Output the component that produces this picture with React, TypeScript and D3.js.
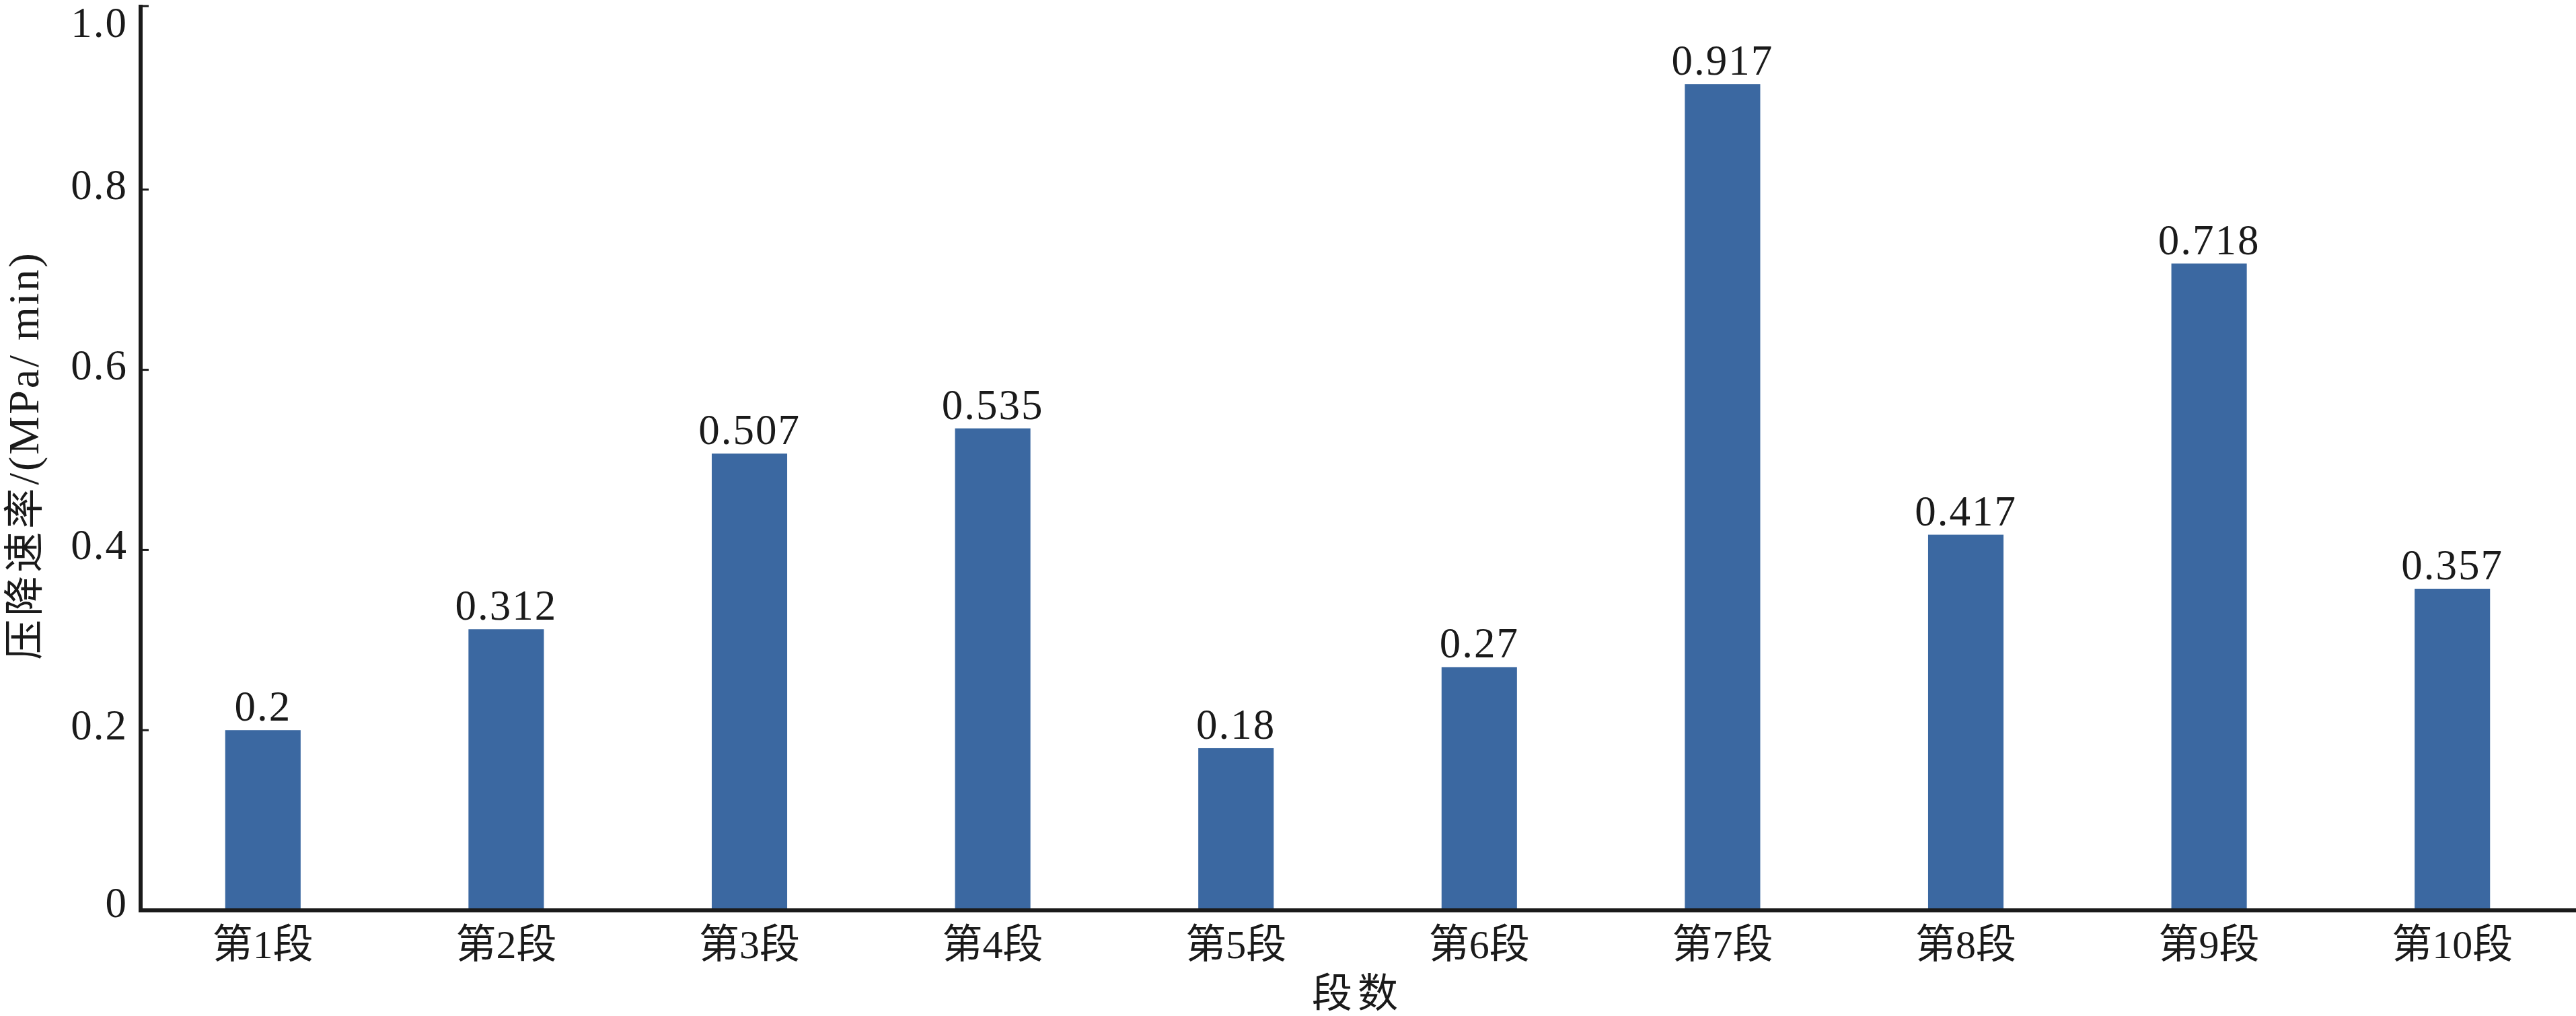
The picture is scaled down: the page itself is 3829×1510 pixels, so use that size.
import React from "react";
import * as d3 from "d3";

const categories = ["第1段", "第2段", "第3段", "第4段", "第5段", "第6段", "第7段", "第8段", "第9段", "第10段"];
const values = [0.2, 0.312, 0.507, 0.535, 0.18, 0.27, 0.917, 0.417, 0.718, 0.357];
const valueLabels = ["0.2", "0.312", "0.507", "0.535", "0.18", "0.27", "0.917", "0.417", "0.718", "0.357"];
const yTicks = [0, 0.2, 0.4, 0.6, 0.8, 1.0];
const yTickLabels = ["0", "0.2", "0.4", "0.6", "0.8", "1.0"];
const xTitle = "段数";
const yTitleCJK = "压降速率";
const yTitleUnit = "/(MPa/ min)";

const W = 3829;
const H = 1510;
const X0 = 210;
const X1 = 3826;
const Y0 = 1353;
const Y1 = 14;

const serif = "'Liberation Serif', 'Times New Roman', 'Noto Sans CJK SC', serif";
const ink = "#1a1a1a";
const barColor = "#3b68a1";

export default function App() {
  const x = d3.scaleBand<string>().domain(categories).range([X0, X1]).paddingInner(0.69).paddingOuter(0.345);
  const y = d3.scaleLinear().domain([0, 1]).range([Y0, Y1]);

  return (
    <svg width={W} height={H} style={{ position: "absolute", left: 0, top: 0, background: "#fff" }}>
      <rect x={0} y={0} width={W} height={H} fill="#fff" />
      {categories.map((c, i) => (
        <rect key={c} x={x(c)} y={y(values[i])} width={x.bandwidth()} height={Y0 - y(values[i])} fill={barColor} />
      ))}
      {categories.map((c, i) => (
        <text key={"v" + c} x={(x(c) as number) + x.bandwidth() / 2} y={y(values[i]) - 14} textAnchor="middle"
          fontFamily={serif} fontSize={63} letterSpacing={2} fill={ink}>{valueLabels[i]}</text>
      ))}
      {/* axes */}
      <line x1={209} x2={209} y1={7} y2={Y0 + 3} stroke={ink} strokeWidth={6} />
      <line x1={206} x2={W} y1={Y0} y2={Y0} stroke={ink} strokeWidth={6} />
      <line x1={209} x2={221} y1={9} y2={9} stroke={ink} strokeWidth={3} />
      {yTicks.map((t, i) => (
        <g key={"t" + i}>
          {t > 0 && t < 1 && <line x1={209} x2={221} y1={y(t)} y2={y(t)} stroke={ink} strokeWidth={3} />}
          <text x={190} y={t === 1 ? 55 : y(t) + 14 + (t === 0 ? -4 : 0)} textAnchor="end" fontFamily={serif} fontSize={63}
            letterSpacing={2} fill={ink}>{yTickLabels[i]}</text>
        </g>
      ))}
      {categories.map((c) => (
        <text key={"c" + c} x={(x(c) as number) + x.bandwidth() / 2} y={1424} textAnchor="middle"
          fontFamily={serif} fontSize={60} fill={ink}>{c}</text>
      ))}
      <text x={(X0 + X1) / 2} y={1497} textAnchor="middle" fontFamily={serif} fontSize={60} letterSpacing={8} fill={ink}>{xTitle}</text>
      <text transform={`translate(57, 677) rotate(-90)`} textAnchor="middle" fontFamily={serif} fill={ink}>
        <tspan fontSize={60} letterSpacing={5}>{yTitleCJK}</tspan>
        <tspan fontSize={64} letterSpacing={3}>{yTitleUnit}</tspan>
      </text>
    </svg>
  );
}
